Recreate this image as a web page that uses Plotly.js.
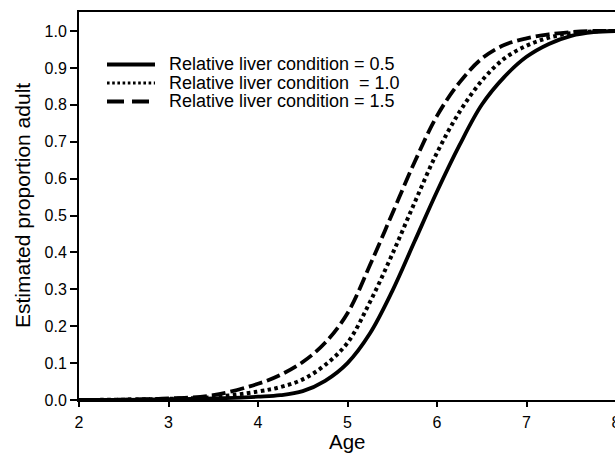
<!DOCTYPE html>
<html>
<head>
<meta charset="utf-8">
<script src="https://cdn.plot.ly/plotly-3.0.1.min.js"></script>
<style>
html,body{margin:0;padding:0;overflow:hidden;background:#fff;}
#chart{width:640px;height:454px;}
</style>
</head>
<body>
<div id="chart"></div>
<script>
// Data
const ages   = [2, 2.5, 3, 3.5, 4, 4.25, 4.5, 4.75, 5, 5.25, 5.5, 5.75, 6, 6.25, 6.5, 6.75, 7, 7.25, 7.5, 7.75, 8];
const cond05 = [0, 0.0005, 0.002, 0.004, 0.009, 0.013, 0.024, 0.052, 0.10, 0.18, 0.295, 0.43, 0.565, 0.69, 0.80, 0.875, 0.93, 0.965, 0.987, 0.997, 1.0];
const cond10 = [0, 0.001, 0.003, 0.008, 0.023, 0.035, 0.056, 0.095, 0.155, 0.265, 0.395, 0.535, 0.67, 0.78, 0.865, 0.925, 0.96, 0.982, 0.994, 0.999, 1.0];
const cond15 = [0, 0.001, 0.004, 0.013, 0.044, 0.068, 0.103, 0.155, 0.235, 0.365, 0.505, 0.645, 0.77, 0.86, 0.925, 0.962, 0.98, 0.991, 0.997, 1.0, 1.0];
const seriesNames = ["Relative liver condition = 0.5", "Relative liver condition  = 1.0", "Relative liver condition = 1.5"];
const yTicks = [0, 0.1, 0.2, 0.3, 0.4, 0.5, 0.6, 0.7, 0.8, 0.9, 1.0];
const xTicks = [2, 3, 4, 5, 6, 7, 8];
const xTitle = "Age";
const yTitle = "Estimated proportion adult";

const FONT = "Liberation Sans, Arial, sans-serif";
const dashes = ["solid", "3.6px,3.4px", "14px,5px"];
const legendDashes = ["solid", "2.6px,2.6px", "17px,8px"];
const widths = [3.8, 4, 3.8];
const seriesY = [cond05, cond10, cond15];

const traces = seriesY.map((ys, i) => ({
  x: ages, y: ys, type: "scatter", mode: "lines",
  name: seriesNames[i],
  line: {color: "#000", width: widths[i], dash: dashes[i], shape: "spline", smoothing: 1},
  showlegend: false, hoverinfo: "skip"
}));

// Layout geometry
const W = 640, H = 454, ml = 79, mr = 24, mt = 12, mb = 54;
const pw = W - ml - mr, ph = H - mt - mb;
const px = p => (p - ml) / pw;
const py = p => (H - mb - p) / ph;

// Legend drawn manually (line samples + labels)
const rowY = [64.5, 83, 101.5];
const shapes = [];
const annotations = [];
rowY.forEach((ry, i) => {
  shapes.push({type: "line", xref: "paper", yref: "paper",
    x0: px(107), x1: px(155), y0: py(ry), y1: py(ry),
    line: {color: "#000", width: i === 1 ? 3 : 4, dash: legendDashes[i]}});
  annotations.push({xref: "paper", yref: "paper", x: px(167), y: py(ry),
    xanchor: "left", yanchor: "middle", showarrow: false,
    text: seriesNames[i].replace(/  /g, " &nbsp;"),
    font: {family: FONT, size: 18, color: "#000"}});
});
// Axis titles
annotations.push({xref: "paper", yref: "paper", x: px(347), y: py(428),
  xanchor: "center", yanchor: "top", showarrow: false, text: xTitle,
  font: {family: FONT, size: 20.5, color: "#000"}});
annotations.push({xref: "paper", yref: "paper", x: px(22), y: py(206),
  xanchor: "center", yanchor: "middle", showarrow: false, text: yTitle, textangle: -90,
  font: {family: FONT, size: 21, color: "#000"}});

const layout = {
  width: W, height: H,
  margin: {l: ml, r: mr, t: mt, b: mb, pad: 0},
  paper_bgcolor: "#fff", plot_bgcolor: "#fff",
  font: {family: FONT, color: "#000"},
  showlegend: false,
  xaxis: {
    range: [2, 8], tickvals: xTicks, ticktext: xTicks.map(String),
    showgrid: false, zeroline: false,
    showline: true, linecolor: "#000", linewidth: 2, mirror: true,
    ticks: "outside", ticklen: 5, tickwidth: 2, tickcolor: "#000",
    ticklabelstandoff: 2,
    tickfont: {family: FONT, size: 16, color: "#000"}
  },
  yaxis: {
    range: [0, 1.0515], tickvals: yTicks, ticktext: yTicks.map(v => v.toFixed(1)),
    showgrid: false, zeroline: false,
    showline: true, linecolor: "#000", linewidth: 2, mirror: true,
    ticks: "outside", ticklen: 7, tickwidth: 2, tickcolor: "#000",
    tickfont: {family: FONT, size: 16, color: "#000"}
  },
  shapes: shapes,
  annotations: annotations
};

Plotly.newPlot("chart", traces, layout, {displayModeBar: false, staticPlot: true});
</script>
</body>
</html>
